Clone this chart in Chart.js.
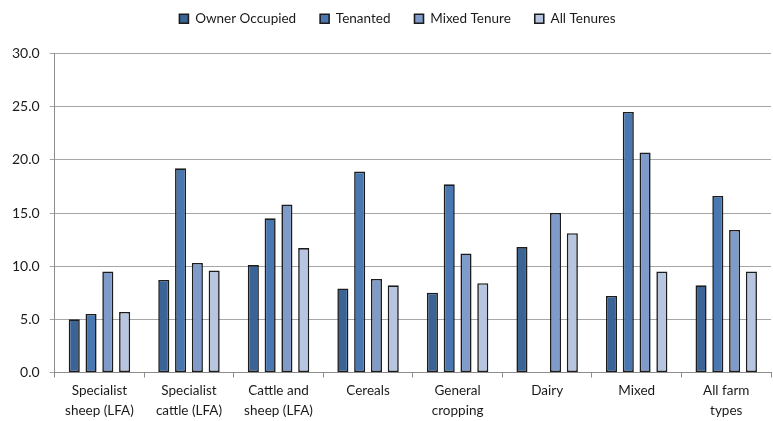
<!DOCTYPE html>
<html lang="en">
<head>
  <meta charset="UTF-8" />
  <title>Farm tenure chart</title>
  <style>
    html, body { margin: 0; padding: 0; background: #fff; }
    #wrap { width: 773px; height: 421px; }
  </style>
</head>
<body>
<div id="wrap"><canvas id="chart" width="773" height="421"></canvas></div>

<script src="https://cdn.jsdelivr.net/npm/chart.js"></script>
<script>
  const categories = [
    ['Specialist', 'sheep (LFA)'],
    ['Specialist', 'cattle (LFA)'],
    ['Cattle and', 'sheep (LFA)'],
    ['Cereals'],
    ['General', 'cropping'],
    ['Dairy'],
    ['Mixed'],
    ['All farm', 'types']
  ];
  const ownerOccupied = [5.0, 8.7, 10.1, 7.9, 7.5, 11.8, 7.2, 8.2];
  const tenanted      = [5.5, 19.2, 14.5, 18.9, 17.7, null, 24.5, 16.6];
  const mixedTenure   = [9.5, 10.3, 15.8, 8.8, 11.2, 15.0, 20.7, 13.4];
  const allTenures    = [5.7, 9.6, 11.7, 8.2, 8.4, 13.1, 9.5, 9.5];

  const seriesNames  = ['Owner Occupied', 'Tenanted', 'Mixed Tenure', 'All Tenures'];
  const seriesColors = ['#3b6496', '#4877b2', '#7e9bc9', '#b7c5e1'];
  const seriesData   = [ownerOccupied, tenanted, mixedTenure, allTenures];

  // push the plot down a bit below the legend, and nudge the legend right
  const legendTweak = {
    id: 'legendTweak',
    beforeInit(chart) {
      const fit = chart.legend.fit;
      chart.legend.fit = function () {
        fit.bind(this)();
        this.height += 18;
      };
    },
    afterLayout(chart) {
      chart.legend.left += 22;
    }
  };

  const font = { family: 'Lato, "Open Sans", sans-serif', size: 13.5 };

  new Chart(document.getElementById('chart'), {
    type: 'bar',
    data: {
      labels: categories,
      datasets: seriesData.map((d, i) => ({
        label: seriesNames[i],
        data: d,
        backgroundColor: seriesColors[i],
        borderColor: '#1c1c1c',
        borderWidth: 1.6,
        borderSkipped: false,
        categoryPercentage: 0.75,
        barPercentage: 0.66
      }))
    },
    options: {
      responsive: false,
      animation: false,
      layout: { padding: { left: 2, right: 2, top: -12, bottom: -3 } },
      plugins: {
        legend: {
          position: 'top',
          labels: {
            font: font,
            color: '#1a1a1a',
            boxWidth: 9,
            boxHeight: 9,
            padding: 24
          }
        },
        tooltip: { enabled: false }
      },
      scales: {
        y: {
          min: 0,
          max: 30,
          ticks: {
            stepSize: 5,
            font: { family: font.family, size: 14 },
            color: '#1a1a1a',
            padding: 10,
            callback: v => v.toFixed(1)
          },
          grid: { color: '#a6a6a6', lineWidth: 1, tickLength: 5 },
          border: { color: '#8c8c8c' }
        },
        x: {
          ticks: {
            font: { family: font.family, size: 13.5, lineHeight: 1.5 },
            color: '#1a1a1a', padding: 3, maxRotation: 0, autoSkip: false
          },
          grid: { offset: true, drawOnChartArea: false, color: '#8c8c8c', tickLength: 5 },
          border: { color: '#8c8c8c' }
        }
      }
    },
    plugins: [legendTweak]
  });
</script>
</body>
</html>
